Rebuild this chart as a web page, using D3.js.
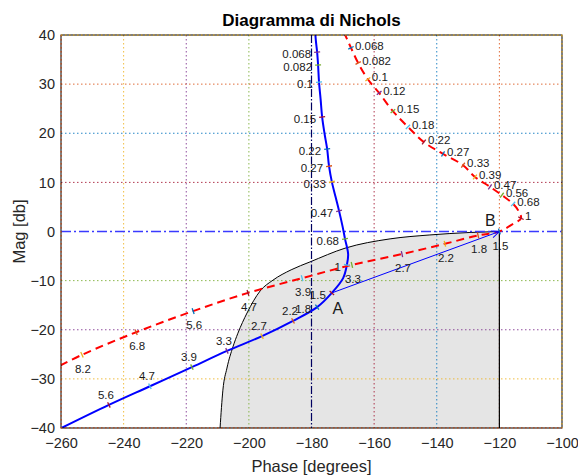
<!DOCTYPE html>
<html>
<head>
<meta charset="utf-8">
<script src="https://cdn.jsdelivr.net/npm/d3@7"></script>
<style>
  body { margin: 0; background: #fff; }
  svg { font-family: 'Liberation Sans', Arial, sans-serif; }
</style>
</head>
<body>
<div id="chart"></div>
<script>
// uncompensated loop (blue)
const blueW     = [0.047, 0.056, 0.068, 0.082, 0.1, 0.12, 0.15, 0.18, 0.22, 0.27, 0.33, 0.39, 0.47, 0.56, 0.68, 0.82, 1, 1.2, 1.5, 1.8, 2.2, 2.7, 3.3, 3.9, 4.7, 5.6, 6.8];
const bluePhase = [-178.9, -178.6, -178.2, -177.9, -177.6, -177.1, -176.6, -175.8, -175.0, -174.4, -173.5, -172.3, -171.2, -170.1, -169.3, -168.3, -168.7, -169.9, -173.5, -178.2, -185.9, -195.8, -207.0, -218.2, -231.6, -244.7, -260.5];
const blueMag   = [41.2, 38.8, 36.5, 33.9, 30.4, 27.0, 23.3, 19.8, 16.8, 13.3, 10.1, 7.0, 4.2, 1.1, -1.5, -4.6, -6.8, -9.5, -12.5, -15.4, -18.2, -21.3, -24.3, -27.6, -31.5, -35.3, -40.2];
const blueLabels = [0.068, 0.082, 0.1, 0.15, 0.22, 0.27, 0.33, 0.47, 0.68, 1, 1.5, 1.8, 2.2, 2.7, 3.3, 3.9, 4.7, 5.6];

// compensated loop (red dashed)
const redW     = [0.047, 0.056, 0.068, 0.082, 0.1, 0.12, 0.15, 0.18, 0.22, 0.27, 0.33, 0.39, 0.47, 0.56, 0.68, 0.82, 1, 1.2, 1.5, 1.8, 2.2, 2.7, 3.3, 3.9, 4.7, 5.6, 6.8, 8.2, 10];
const redPhase = [-171.5, -169.4, -167.4, -165.1, -162.0, -158.4, -154.0, -149.2, -144.1, -138.0, -131.6, -127.8, -123.0, -119.2, -115.6, -113.9, -113.1, -116.0, -120.0, -126.8, -137.4, -151.1, -167.1, -183.0, -200.3, -217.8, -236.0, -253.3, -262.5];
const redMag   = [43.0, 40.2, 37.4, 34.3, 31.0, 28.2, 24.5, 21.3, 18.2, 15.8, 13.5, 11.1, 9.1, 7.4, 5.6, 4.2, 2.7, 1.4, 0.0, -0.8, -2.5, -4.6, -6.8, -9.5, -12.5, -16.2, -20.5, -25.1, -28.0];
const redLabels = [0.068, 0.082, 0.1, 0.12, 0.15, 0.18, 0.22, 0.27, 0.33, 0.39, 0.47, 0.56, 0.68, 1, 1.5, 1.8, 2.2, 2.7, 3.3, 3.9, 4.7, 5.6, 6.8, 8.2];

// boundary of the shaded region
const boundPhase = [-209.2, -208.3, -207.0, -205.1, -203.5, -200.6, -196.4, -192.3, -186.5, -180.5, -169.3, -154.9, -142.2, -129.4, -120.0];
const boundMag   = [-40.0, -32.3, -27.8, -23.5, -20.7, -16.6, -12.1, -9.9, -7.8, -6.2, -3.4, -1.5, -0.7, -0.2, 0.0];

const designW = 1.5;   // A on blue, B on red

const phaseTicks = [-260, -240, -220, -200, -180, -160, -140, -120, -100];
const magTicks = [-40, -30, -20, -10, 0, 10, 20, 30, 40];

const width = 578, height = 475;
const margin = { top: 35, right: 16, bottom: 47, left: 61 };

const colorOrder = ['#0072BD', '#D95319', '#EDB120', '#7E2F8E', '#77AC30', '#4DBEEE', '#A2142F'];

const x = d3.scaleLinear().domain([-260, -100]).range([margin.left, width - margin.right]);
const y = d3.scaleLinear().domain([-40, 40]).range([height - margin.bottom, margin.top]);

const svg = d3.select('#chart')
    .append('svg')
    .attr('width', width)
    .attr('height', height);

const defs = svg.append('defs');
defs.append('clipPath')
    .attr('id', 'plot')
    .append('rect')
    .attr('x', x(-260)).attr('y', y(40))
    .attr('width', x(-100) - x(-260)).attr('height', y(-40) - y(40));

defs.append('marker')
    .attr('id', 'arrow')
    .attr('viewBox', '-10 -5 12 10')
    .attr('refX', 0).attr('refY', 0)
    .attr('markerUnits', 'userSpaceOnUse')
    .attr('markerWidth', 12).attr('markerHeight', 10)
    .attr('orient', 'auto')
    .append('path')
    .attr('d', 'M-8,-3.5 L0,0 L-8,3.5')
    .attr('fill', 'none')
    .attr('stroke', '#0000ff')
    .attr('stroke-width', 1);

const plot = svg.append('g').attr('clip-path', 'url(#plot)');

const toPts = (ph, mg) => ph.map((p, i) => [p, mg[i]]);

// shaded region, closed along the bottom and the -120 edge
const bound = toPts(boundPhase, boundMag);
const smooth = d3.line().x(d => x(d[0])).y(d => y(d[1])).curve(d3.curveMonotoneX)(bound);
plot.append('path')
    .attr('d', smooth + `L${x(-120)},${y(-40)}L${x(boundPhase[0])},${y(-40)}Z`)
    .attr('fill', '#e5e5e5')
    .attr('stroke', 'none');

// coloured dotted grid
phaseTicks.filter(p => p !== -180).forEach(p => {
    plot.append('line')
        .attr('x1', x(p)).attr('x2', x(p))
        .attr('y1', y(40)).attr('y2', y(-40))
        .attr('stroke', colorOrder[((p + 280) / 20) % 7])
        .attr('stroke-opacity', 0.85)
        .attr('stroke-width', 1)
        .attr('stroke-dasharray', '1.5,2.5');
});
magTicks.filter(m => m !== 0).forEach(m => {
    plot.append('line')
        .attr('x1', x(-260)).attr('x2', x(-100))
        .attr('y1', y(m)).attr('y2', y(m))
        .attr('stroke', colorOrder[((m + 50) / 10) % 7])
        .attr('stroke-opacity', 0.85)
        .attr('stroke-width', 1)
        .attr('stroke-dasharray', '1.5,2.5');
});

// boundary and the -120 edge
plot.append('path')
    .attr('d', smooth)
    .attr('fill', 'none')
    .attr('stroke', '#000')
    .attr('stroke-width', 1);
plot.append('line')
    .attr('x1', x(-120)).attr('x2', x(-120))
    .attr('y1', y(0)).attr('y2', y(-40))
    .attr('stroke', '#000')
    .attr('stroke-width', 1.2);

// -180 deg and 0 dB reference lines
plot.append('line')
    .attr('x1', x(-180)).attr('x2', x(-180))
    .attr('y1', y(40)).attr('y2', y(-40))
    .attr('stroke', '#000060')
    .attr('stroke-width', 1.2)
    .attr('stroke-dasharray', '8,2,1.5,2');
plot.append('line')
    .attr('x1', x(-260)).attr('x2', x(-100))
    .attr('y1', y(0)).attr('y2', y(0))
    .attr('stroke', '#3a3aff')
    .attr('stroke-width', 1.5)
    .attr('stroke-dasharray', '10,3,2,3');

// curves
const curve = d3.line().x(d => x(d[0])).y(d => y(d[1])).curve(d3.curveCatmullRom.alpha(0.5));
const bluePts = toPts(bluePhase, blueMag);
const redPts = toPts(redPhase, redMag);

plot.append('path')
    .attr('d', curve(bluePts))
    .attr('fill', 'none')
    .attr('stroke', '#0000ff')
    .attr('stroke-width', 2);

plot.append('path')
    .attr('d', curve(redPts))
    .attr('fill', 'none')
    .attr('stroke', '#ff0000')
    .attr('stroke-width', 2)
    .attr('stroke-dasharray', '8,5');

// A -> B arrow
const ia = blueW.indexOf(designW);
const ib = redW.indexOf(designW);
const A = [x(bluePhase[ia]), y(blueMag[ia])];
const B = [x(redPhase[ib]), y(redMag[ib])];
plot.append('line')
    .attr('x1', A[0]).attr('y1', A[1])
    .attr('x2', B[0]).attr('y2', B[1])
    .attr('stroke', '#0000ff')
    .attr('stroke-width', 1)
    .attr('marker-end', 'url(#arrow)');

// frequency marks and labels
function marks(W, ph, mg, labels, colorShift, placeLabel) {
    labels.forEach((w, k) => {
        const i = W.indexOf(w);
        const px = x(ph[i]), py = y(mg[i]);
        const a = [x(ph[Math.max(i - 1, 0)]), y(mg[Math.max(i - 1, 0)])];
        const b = [x(ph[Math.min(i + 1, W.length - 1)]), y(mg[Math.min(i + 1, W.length - 1)])];
        const dx = b[0] - a[0], dy = b[1] - a[1];
        const len = Math.hypot(dx, dy) || 1;
        const nx = -dy / len * 3, ny = dx / len * 3;
        svg.append('line')
            .attr('x1', px - nx).attr('y1', py - ny)
            .attr('x2', px + nx).attr('y2', py + ny)
            .attr('stroke', colorOrder[(k + colorShift) % 7])
            .attr('stroke-width', 1.3);
        const pos = placeLabel(w, px, py);
        svg.append('text')
            .attr('x', pos.x).attr('y', pos.y)
            .attr('text-anchor', pos.anchor)
            .attr('font-size', 11.5)
            .attr('fill', '#1a1a1a')
            .text(w);
    });
}

marks(blueW, bluePhase, blueMag, blueLabels, 3, (w, px, py) =>
    w <= 1.8 ? { x: px - 6, y: py + 6, anchor: 'end' }
             : { x: px - 3, y: py - 6, anchor: 'middle' });

marks(redW, redPhase, redMag, redLabels, 0, (w, px, py) =>
    w <= 1 ? { x: px + 4, y: py + 2, anchor: 'start' }
           : { x: px + 1, y: py + 18, anchor: 'middle' });

svg.append('text')
    .attr('x', A[0] + 6).attr('y', A[1] + 21)
    .attr('text-anchor', 'middle')
    .attr('font-size', 16)
    .attr('fill', '#1a1a1a')
    .text('A');
svg.append('text')
    .attr('x', B[0] - 9).attr('y', B[1] - 6)
    .attr('text-anchor', 'middle')
    .attr('font-size', 16)
    .attr('fill', '#1a1a1a')
    .text('B');

// frame
svg.append('rect')
    .attr('x', x(-260)).attr('y', y(40))
    .attr('width', x(-100) - x(-260)).attr('height', y(-40) - y(40))
    .attr('fill', 'none')
    .attr('stroke', '#000')
    .attr('stroke-width', 1);
[-260, -100].forEach(p => {
    svg.append('line')
        .attr('x1', x(p)).attr('x2', x(p))
        .attr('y1', y(40)).attr('y2', y(-40))
        .attr('stroke', colorOrder[((p + 280) / 20) % 7])
        .attr('stroke-width', 1)
        .attr('stroke-dasharray', '1.5,2.5');
});
[-40, 40].forEach(m => {
    svg.append('line')
        .attr('x1', x(-260)).attr('x2', x(-100))
        .attr('y1', y(m)).attr('y2', y(m))
        .attr('stroke', colorOrder[((m + 50) / 10) % 7])
        .attr('stroke-width', 1)
        .attr('stroke-dasharray', '1.5,2.5');
});

// axes
svg.append('g')
    .attr('transform', `translate(0,${y(-40)})`)
    .call(d3.axisBottom(x).tickValues(phaseTicks).tickSize(0).tickPadding(10))
    .call(g => g.select('.domain').remove())
    .attr('font-family', null)
    .attr('font-size', 14.5)
    .selectAll('text').attr('fill', '#262626');

svg.append('g')
    .attr('transform', `translate(${x(-260)},0)`)
    .call(d3.axisLeft(y).tickValues(magTicks).tickSize(0).tickPadding(6))
    .call(g => g.select('.domain').remove())
    .attr('font-family', null)
    .attr('font-size', 14.5)
    .selectAll('text').attr('fill', '#262626');

svg.append('text')
    .attr('x', (x(-260) + x(-100)) / 2).attr('y', 26)
    .attr('text-anchor', 'middle')
    .attr('font-size', 17)
    .attr('font-weight', 'bold')
    .attr('fill', '#000')
    .text('Diagramma di Nichols');

svg.append('text')
    .attr('x', (x(-260) + x(-100)) / 2).attr('y', 472)
    .attr('text-anchor', 'middle')
    .attr('font-size', 16.5)
    .attr('fill', '#262626')
    .text('Phase [degrees]');

svg.append('text')
    .attr('transform', `translate(25,${(y(40) + y(-40)) / 2}) rotate(-90)`)
    .attr('text-anchor', 'middle')
    .attr('font-size', 16.5)
    .attr('fill', '#262626')
    .text('Mag [db]');
</script>
</body>
</html>
